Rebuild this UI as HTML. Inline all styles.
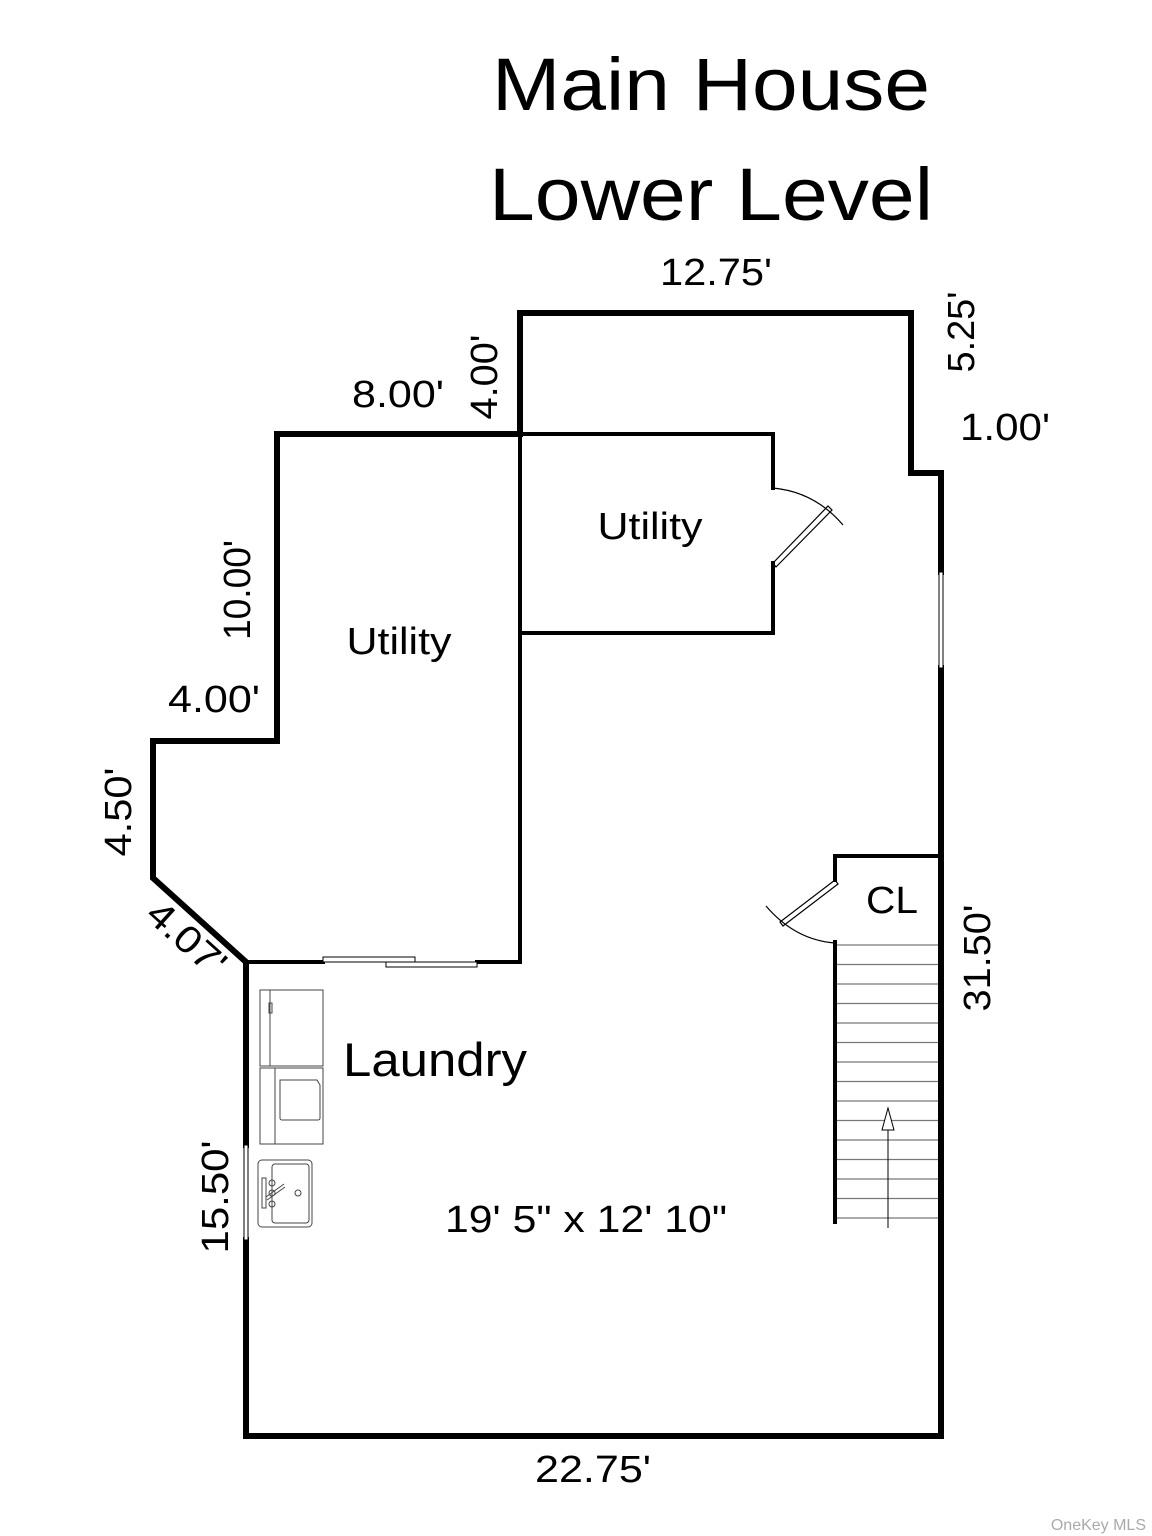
<!DOCTYPE html>
<html><head><meta charset="utf-8"><style>html,body{margin:0;padding:0;background:#fff}svg{display:block}text{font-family:"Liberation Sans",Arial,sans-serif;fill:#000}</style></head>
<body>
<svg width="1152" height="1536" viewBox="0 0 1152 1536" xmlns="http://www.w3.org/2000/svg">
<rect width="1152" height="1536" fill="#fff"/>
<text x="711" y="110" font-size="74" text-anchor="middle" textLength="438" lengthAdjust="spacingAndGlyphs">Main House</text>
<text x="711" y="220" font-size="74" text-anchor="middle" textLength="444" lengthAdjust="spacingAndGlyphs">Lower Level</text>
<g fill="none" stroke="#000" stroke-width="6" stroke-linejoin="miter" stroke-linecap="square">
<polyline points="941,572 941,473 911,473 911,313 520,313 520,434 277,434 277,741 153,741 153,878 246,962 246,1145"/>
<polyline points="246,1240 246,1436 941,1436 941,668"/>
</g>
<g fill="none" stroke="#000" stroke-width="4" stroke-linecap="square">
<polyline points="520,434 520,962 477,962"/>
<line x1="246" y1="962" x2="323" y2="962"/>
<polyline points="520,434 773,434 773,488"/>
<polyline points="773,563 773,633 520,633"/>
<polyline points="835,880 835,856 941,856"/>
<line x1="835" y1="942" x2="835" y2="1222"/>
</g>
<g fill="#fff" stroke="#000" stroke-width="1">
<rect x="323" y="957" width="92" height="5"/>
<rect x="386" y="962" width="91" height="5"/>
<rect x="939" y="572" width="4" height="96"/>
<rect x="244" y="1145" width="4" height="95"/>
</g>
<g fill="none" stroke="#000" stroke-width="1.2">
<path d="M773,488 Q815,492 843,525"/>
<path d="M773,563 L828,506 L832,510 L776,567 Z"/>
<path d="M835,943 Q795,940 766,906"/>
<path d="M835,880 L780,922 L783,926 L838,884 Z"/>
</g>
<g stroke="#777" stroke-width="1.2">
<line x1="837" y1="945" x2="938" y2="945"/><line x1="837" y1="964.5" x2="938" y2="964.5"/><line x1="837" y1="984" x2="938" y2="984"/><line x1="837" y1="1003.5" x2="938" y2="1003.5"/><line x1="837" y1="1023" x2="938" y2="1023"/><line x1="837" y1="1042.5" x2="938" y2="1042.5"/><line x1="837" y1="1062" x2="938" y2="1062"/><line x1="837" y1="1081.5" x2="938" y2="1081.5"/><line x1="837" y1="1101" x2="938" y2="1101"/><line x1="837" y1="1120.5" x2="938" y2="1120.5"/><line x1="837" y1="1140" x2="938" y2="1140"/><line x1="837" y1="1159.5" x2="938" y2="1159.5"/><line x1="837" y1="1179" x2="938" y2="1179"/><line x1="837" y1="1198.5" x2="938" y2="1198.5"/><line x1="837" y1="1218" x2="938" y2="1218"/>
</g>
<g stroke="#000" stroke-width="1" fill="#fff">
<line x1="888" y1="1228" x2="888" y2="1128"/>
<path d="M888,1108 L882,1130 L894,1130 Z"/>
</g>
<g fill="none" stroke="#444" stroke-width="1">
<rect x="260" y="990" width="63" height="76"/>
<rect x="260" y="990" width="10" height="76"/>
<rect x="269" y="1003" width="3" height="10"/>
<rect x="260" y="1068" width="63" height="76"/>
<line x1="275" y1="1068" x2="275" y2="1144"/>
<path d="M280,1080 h37 l3,5 v33 a2,2 0 0 1 -2,2 h-36 a2,2 0 0 1 -2,-2 v-36 Z"/>
<rect x="258" y="1160" width="54" height="67" rx="4"/>
<rect x="272" y="1164" width="37" height="59" rx="3"/>
<rect x="262" y="1178" width="4" height="30"/>
<line x1="266" y1="1197" x2="284" y2="1184"/>
<line x1="267" y1="1200" x2="285" y2="1187"/>
<circle cx="272" cy="1183" r="3"/><circle cx="272" cy="1193" r="3"/><circle cx="272" cy="1204" r="3"/>
<circle cx="298" cy="1193" r="3"/>
</g>
<g font-size="38" lengthAdjust="spacingAndGlyphs">
<text x="716" y="285" text-anchor="middle" textLength="112" lengthAdjust="spacingAndGlyphs">12.75'</text>
<text x="398" y="407" text-anchor="middle" textLength="92" lengthAdjust="spacingAndGlyphs">8.00'</text>
<text x="1005" y="440" text-anchor="middle" textLength="90" lengthAdjust="spacingAndGlyphs">1.00'</text>
<text x="214" y="712" text-anchor="middle" textLength="92" lengthAdjust="spacingAndGlyphs">4.00'</text>
<text x="593" y="1482" text-anchor="middle" textLength="116" lengthAdjust="spacingAndGlyphs">22.75'</text>
<text x="650" y="539" text-anchor="middle" textLength="105" lengthAdjust="spacingAndGlyphs">Utility</text>
<text x="399" y="654" text-anchor="middle" textLength="105" lengthAdjust="spacingAndGlyphs">Utility</text>
<text x="892" y="913" text-anchor="middle" textLength="52" lengthAdjust="spacingAndGlyphs">CL</text>
<text x="586" y="1232" text-anchor="middle" textLength="282" lengthAdjust="spacingAndGlyphs">19' 5" x 12' 10"</text>
<text transform="translate(497,377) rotate(-90)" text-anchor="middle" textLength="85" lengthAdjust="spacingAndGlyphs">4.00'</text>
<text transform="translate(974,332) rotate(-90)" text-anchor="middle" textLength="81" lengthAdjust="spacingAndGlyphs">5.25'</text>
<text transform="translate(250,590) rotate(-90)" text-anchor="middle" textLength="100" lengthAdjust="spacingAndGlyphs">10.00'</text>
<text transform="translate(131,812) rotate(-90)" text-anchor="middle" textLength="89" lengthAdjust="spacingAndGlyphs">4.50'</text>
<text transform="translate(228,1197) rotate(-90)" text-anchor="middle" textLength="113" lengthAdjust="spacingAndGlyphs">15.50'</text>
<text transform="translate(990,958) rotate(-90)" text-anchor="middle" textLength="107" lengthAdjust="spacingAndGlyphs">31.50'</text>
<text transform="translate(178,948) rotate(42)" text-anchor="middle" textLength="92" lengthAdjust="spacingAndGlyphs">4.07'</text>
</g>
<text x="435" y="1076" font-size="47" text-anchor="middle" textLength="184" lengthAdjust="spacingAndGlyphs">Laundry</text>
<text x="1146" y="1530" font-size="16" text-anchor="end" style="fill:#aaa">OneKey MLS</text>
</svg>
</body></html>
